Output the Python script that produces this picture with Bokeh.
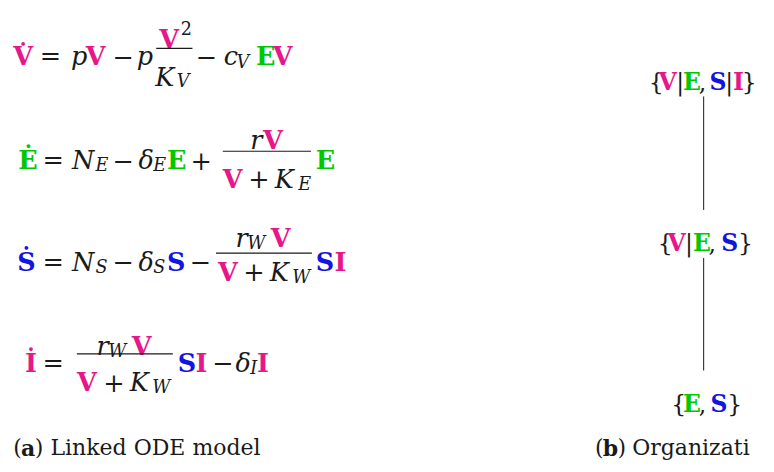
from bokeh.plotting import figure
from bokeh.models import Range1d, ColumnDataSource
from bokeh.core.properties import value
from bokeh.embed import file_html
from bokeh.resources import INLINE

# colours of the three state groups
MAG = "#E6178A"   # V, I
GRN = "#00C800"   # E
BLU = "#1414E0"   # S
BLK = "#1a1a1a"

FONT = "DejaVu Serif"
MAIN = "25.5px"
SUB = "17.6px"
SET = "23.5px"
CAP = "22px"

# tokens: text, x (left), y (baseline), colour, size, style
eq1 = [
    ("V\u0307", 13, 57, MAG, MAIN, "bold"),
    ("=", 40, 57, BLK, MAIN, "normal"),
    ("p", 72, 57, BLK, MAIN, "italic"),
    ("V", 87, 57, MAG, MAIN, "bold"),
    ("\u2212", 114, 57, BLK, MAIN, "normal"),
    ("p", 139, 57, BLK, MAIN, "italic"),
    ("V", 162, 39, MAG, MAIN, "bold"),
    ("2", 184, 28, BLK, SUB, "normal"),
    ("K", 158, 78, BLK, MAIN, "italic"),
    ("V", 180, 82, BLK, SUB, "italic"),
    ("\u2212", 199, 57, BLK, MAIN, "normal"),
    ("c", 228, 57, BLK, MAIN, "italic"),
    ("V", 241, 63, BLK, SUB, "italic"),
    ("E", 261, 57, GRN, MAIN, "bold"),
    ("V", 278, 57, MAG, MAIN, "bold"),
]
eq2 = [
    ("\u0116", 18, 163, GRN, MAIN, "bold"),
    ("=", 43, 163, BLK, MAIN, "normal"),
    ("N", 73, 163, BLK, MAIN, "italic"),
    ("E", 97, 168, BLK, SUB, "italic"),
    ("\u2212", 114, 163, BLK, MAIN, "normal"),
    ("\u03b4", 141, 163, BLK, MAIN, "italic"),
    ("E", 156, 168, BLK, SUB, "italic"),
    ("E", 170, 163, GRN, MAIN, "bold"),
    ("+", 194, 163, BLK, MAIN, "normal"),
    ("r", 255, 143, BLK, MAIN, "italic"),
    ("V", 268, 143, MAG, MAIN, "bold"),
    ("V", 227, 182, MAG, MAIN, "bold"),
    ("+", 253, 182, BLK, MAIN, "normal"),
    ("K", 280, 182, BLK, MAIN, "italic"),
    ("E", 304, 187, BLK, SUB, "italic"),
    ("E", 322, 163, GRN, MAIN, "bold"),
]
eq3 = [
    ("\u1e60", 17, 267, BLU, MAIN, "bold"),
    ("=", 43, 267, BLK, MAIN, "normal"),
    ("N", 73, 267, BLK, MAIN, "italic"),
    ("S", 97, 272, BLK, SUB, "italic"),
    ("\u2212", 114, 267, BLK, MAIN, "normal"),
    ("\u03b4", 141, 267, BLK, MAIN, "italic"),
    ("S", 156, 272, BLK, SUB, "italic"),
    ("S", 170, 267, BLU, MAIN, "bold"),
    ("\u2212", 193, 267, BLK, MAIN, "normal"),
    ("r", 240, 243, BLK, MAIN, "italic"),
    ("W", 252, 248, BLK, SUB, "italic"),
    ("V", 276, 243, MAG, MAIN, "bold"),
    ("V", 222, 277, MAG, MAIN, "bold"),
    ("+", 248, 277, BLK, MAIN, "normal"),
    ("K", 275, 277, BLK, MAIN, "italic"),
    ("W", 298, 282, BLK, SUB, "italic"),
    ("S", 322, 267, BLU, MAIN, "bold"),
    ("I", 341, 267, MAG, MAIN, "bold"),
]
eq4 = [
    ("\u0130", 25, 370, MAG, MAIN, "bold"),
    ("=", 43, 370, BLK, MAIN, "normal"),
    ("r", 98, 353, BLK, MAIN, "italic"),
    ("W", 110, 358, BLK, SUB, "italic"),
    ("V", 134, 353, MAG, MAIN, "bold"),
    ("V", 78, 390, MAG, MAIN, "bold"),
    ("+", 105, 390, BLK, MAIN, "normal"),
    ("K", 132, 390, BLK, MAIN, "italic"),
    ("W", 155, 395, BLK, SUB, "italic"),
    ("S", 181, 370, BLU, MAIN, "bold"),
    ("I", 199, 370, MAG, MAIN, "bold"),
    ("\u2212", 216, 370, BLK, MAIN, "normal"),
    ("\u03b4", 240, 370, BLK, MAIN, "italic"),
    ("I", 255, 375, BLK, SUB, "italic"),
    ("I", 262, 370, MAG, MAIN, "bold"),
]
# fraction bars: x0, x1, y
frac_bars = [(159, 196, 49), (227, 317, 154), (220, 318, 258), (78, 176, 361)]

# lattice of organisations (right panel)
lattice = [
    ("{", 662, 83, BLK, SET, "normal"),
    ("V", 672, 83, MAG, SET, "bold"),
    ("|", 690, 83, BLK, SET, "normal"),
    ("E", 697, 83, GRN, SET, "bold"),
    (",", 713, 83, BLK, SET, "normal"),
    ("S", 724, 83, BLU, SET, "bold"),
    ("|", 740, 83, BLK, SET, "normal"),
    ("I", 748, 83, MAG, SET, "bold"),
    ("}", 757, 83, BLK, SET, "normal"),
    ("{", 671, 248, BLK, SET, "normal"),
    ("V", 681, 248, MAG, SET, "bold"),
    ("|", 699, 248, BLK, SET, "normal"),
    ("E", 707, 248, GRN, SET, "bold"),
    (",", 723, 248, BLK, SET, "normal"),
    ("S", 736, 248, BLU, SET, "bold"),
    ("}", 753, 248, BLK, SET, "normal"),
    ("{", 685, 412, BLK, SET, "normal"),
    ("E", 697, 412, GRN, SET, "bold"),
    (",", 713, 412, BLK, SET, "normal"),
    ("S", 725, 412, BLU, SET, "bold"),
    ("}", 742, 412, BLK, SET, "normal"),
]
lattice_edges = [(718, 98, 718, 214), (718, 263, 718, 378)]

captions = [
    ("(", 13, 457, BLK, CAP, "normal"),
    ("a", 21, 457, BLK, CAP, "bold"),
    (")", 35, 457, BLK, CAP, "normal"),
    ("Linked ODE model", 51, 457, BLK, CAP, "normal"),
    ("(", 607, 457, BLK, CAP, "normal"),
    ("b", 615, 457, BLK, CAP, "bold"),
    (")", 630, 457, BLK, CAP, "normal"),
    ("Organizati", 645, 457, BLK, CAP, "normal"),
]

# page is drawn in the reference's own 774 x 472 pixel frame
REF_W, REF_H = 774, 472
W, H = 758, 462
p = figure(width=W, height=H, output_backend="svg", toolbar_location=None,
           x_range=Range1d(0, REF_W), y_range=Range1d(REF_H, 0),
           x_axis_location=None, y_axis_location=None, min_border=0)
p.grid.visible = False
p.outline_line_color = None
p.background_fill_color = "white"
p.border_fill_color = "white"

tokens = eq1 + eq2 + eq3 + eq4 + lattice + captions
src = ColumnDataSource(dict(
    text=[t[0] for t in tokens], x=[t[1] for t in tokens], y=[t[2] for t in tokens],
    color=[t[3] for t in tokens], size=[t[4] for t in tokens], style=[t[5] for t in tokens]))
p.text(x="x", y="y", text="text", text_color="color", text_font_size="size",
       text_font_style="style", text_font=value(FONT), text_baseline="alphabetic",
       text_align="left", source=src)

p.segment(x0=[b[0] for b in frac_bars], x1=[b[1] for b in frac_bars],
          y0=[b[2] for b in frac_bars], y1=[b[2] for b in frac_bars],
          line_color=BLK, line_width=1.2)
p.segment(x0=[e[0] for e in lattice_edges], y0=[e[1] for e in lattice_edges],
          x1=[e[2] for e in lattice_edges], y1=[e[3] for e in lattice_edges],
          line_color=BLK, line_width=1)

open("out.html", "w").write(file_html(p, INLINE))
